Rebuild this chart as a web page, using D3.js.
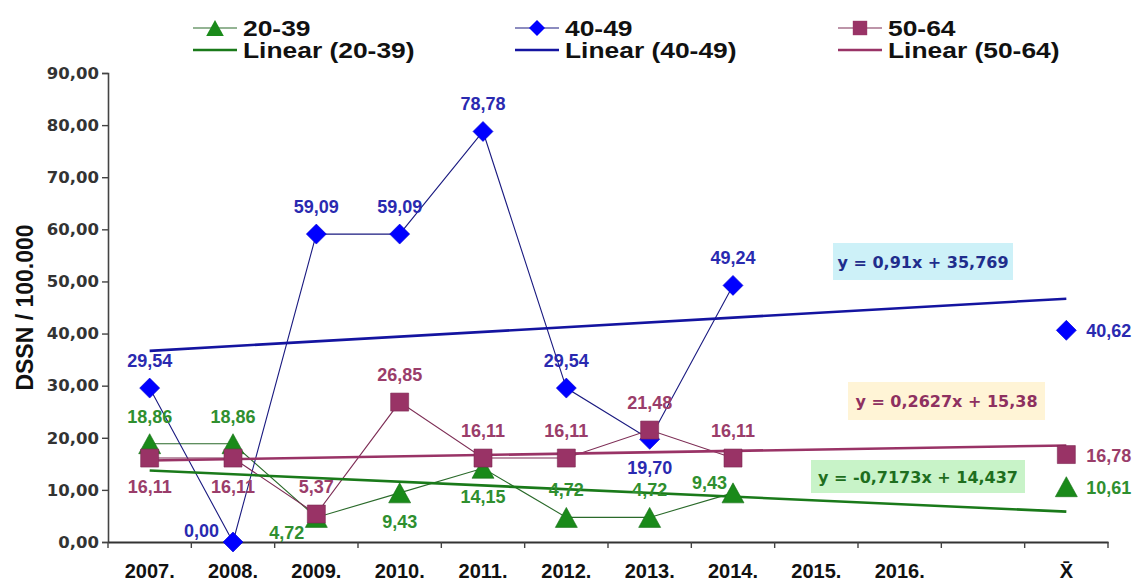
<!DOCTYPE html>
<html>
<head>
<meta charset="utf-8">
<script src="https://cdn.jsdelivr.net/npm/d3@7"></script>
<style>
  html, body { margin: 0; padding: 0; background: #fff; }
  svg { display: block; }
</style>
</head>
<body>
<svg id="chart" width="1147" height="581"></svg>
<script>
// ---------------- data ----------------
const categories = ["2007.", "2008.", "2009.", "2010.", "2011.", "2012.", "2013.", "2014.", "2015.", "2016.", "", "X\u0304"];
const seriesNames = ["20-39", "40-49", "50-64"];
const values2039 = [18.86, 18.86, 4.72, 9.43, 14.15, 4.72, 4.72, 9.43, null, null, null, 10.61];
const values4049 = [29.54, 0.00, 59.09, 59.09, 78.78, 29.54, 19.70, 49.24, null, null, null, 40.62];
const values5064 = [16.11, 16.11, 5.37, 26.85, 16.11, 16.11, 21.48, 16.11, null, null, null, 16.78];
const trendSlopes = [-0.7173, 0.91, 0.2627];
const trendIntercepts = [14.437, 35.769, 15.38];
const trendLabels = ["y = -0,7173x + 14,437", "y = 0,91x + 35,769", "y = 0,2627x + 15,38"];
const yTicks = [0, 10, 20, 30, 40, 50, 60, 70, 80, 90];
const yTitle = "DSSN / 100.000";

// label placement codes (layout only)
const place2039 = ["t", "t", "bl", "b", "b", "t", "t", "tl", null, null, null, "r"];
const place4049 = ["t", "l", "t", "t", "t", "t", "b", "t", null, null, null, "r"];
const place5064 = ["b", "b", "t", "t", "t", "t", "t", "t", null, null, null, "r"];

// ---------------- styling ----------------
const styles = [
  { marker: "#1a8a1a", line: "#2a6a2a", trend: "#1a7a1a", label: "#2f8f2f", eq: "#1e6e1e", eqBg: "#c8f3c8", shape: "triangle" },
  { marker: "#0000ff", line: "#1a1a80", trend: "#1414a0", label: "#2a2ab0", eq: "#1f2d8c", eqBg: "#cdf1f8", shape: "diamond" },
  { marker: "#993366", line: "#7d2d55", trend: "#993366", label: "#9a3d6a", eq: "#8e3060", eqBg: "#fff4d6", shape: "square" }
];
const allValues = [values2039, values4049, values5064];
const allPlaces = [place2039, place4049, place5064];

const svg = d3.select("#chart");
const plotL = 108, plotR = 1108, plotT = 73, plotB = 542;

const x = d3.scaleBand().domain(d3.range(categories.length)).range([plotL, plotR]).paddingInner(0).paddingOuter(0);
const cx = i => x(i) + x.bandwidth() / 2;
const y = d3.scaleLinear().domain([0, 90]).range([plotB, plotT]);

const fmt = v => v.toFixed(2).replace(".", ",");

function markerPath(shape, s) {
  if (shape === "triangle") return `M0,${-s} L${s * 1.1},${s} L${-s * 1.1},${s} Z`;
  if (shape === "diamond") return `M0,${-s} L${s},0 L0,${s} L${-s},0 Z`;
  return `M${-s * 0.9},${-s * 0.9} H${s * 0.9} V${s * 0.9} H${-s * 0.9} Z`;
}

// ---------------- axes ----------------
const yAxis = d3.axisLeft(y).tickValues(yTicks).tickFormat(fmt).tickSize(6).tickPadding(3);
const gy = svg.append("g").attr("transform", `translate(${plotL},0)`).call(yAxis);
gy.select(".domain").attr("stroke", "#444").attr("stroke-width", 1.6);
gy.selectAll(".tick line").attr("stroke", "#444").attr("stroke-width", 1.4);
gy.selectAll(".tick text")
  .attr("font-family", "'DejaVu Sans', sans-serif")
  .attr("font-weight", "bold")
  .attr("font-size", 16.5)
  .attr("fill", "#333");

const xAxis = d3.axisBottom(x).tickFormat(i => categories[i]).tickSize(0).tickPadding(22);
const gx = svg.append("g").attr("transform", `translate(0,${plotB})`).call(xAxis);
gx.select(".domain").attr("stroke", "#333").attr("stroke-width", 1.8);
gx.selectAll(".tick text")
  .attr("font-family", "'Liberation Sans', Arial, sans-serif")
  .attr("font-weight", "bold")
  .attr("font-size", 20)
  .attr("fill", "#111");
// boundary tick marks
svg.append("g").selectAll("line")
  .data(d3.range(categories.length + 1))
  .join("line")
  .attr("x1", i => plotL + i * x.step())
  .attr("x2", i => plotL + i * x.step())
  .attr("y1", plotB)
  .attr("y2", plotB + 6)
  .attr("stroke", "#444")
  .attr("stroke-width", 1.4);

// y title
svg.append("text")
  .attr("transform", `translate(33,${(plotT + plotB) / 2}) rotate(-90)`)
  .attr("text-anchor", "middle")
  .attr("font-family", "'Liberation Sans', Arial, sans-serif")
  .attr("font-weight", "bold")
  .attr("font-size", 23)
  .attr("fill", "#111")
  .text(yTitle);

// ---------------- series lines ----------------
allValues.forEach((vals, k) => {
  const line = d3.line().defined(d => d != null).x((d, i) => cx(i)).y(d => y(d));
  svg.append("path")
    .attr("d", line(vals))
    .attr("fill", "none")
    .attr("stroke", styles[k].line)
    .attr("stroke-width", 1.1);
});

// ---------------- trend lines ----------------
allValues.forEach((vals, k) => {
  const idx = [0, categories.length - 1];
  const tl = d3.line().x(i => cx(i)).y(i => y(trendSlopes[k] * (i + 1) + trendIntercepts[k]));
  svg.append("path")
    .attr("d", tl(idx))
    .attr("fill", "none")
    .attr("stroke", styles[k].trend)
    .attr("stroke-width", 2.6);
});

// ---------------- markers ----------------
allValues.forEach((vals, k) => {
  svg.append("g").selectAll("path")
    .data(vals.map((v, i) => ({ v, i })).filter(d => d.v != null))
    .join("path")
    .attr("transform", d => `translate(${cx(d.i)},${y(d.v)})`)
    .attr("d", markerPath(styles[k].shape, 10))
    .attr("fill", styles[k].marker)
    .attr("stroke", d3.color(styles[k].marker).darker(0.6))
    .attr("stroke-width", 0.6);
});

// ---------------- data labels ----------------
function labelPos(code, px, py) {
  switch (code) {
    case "t": return { x: px, y: py - 21, a: "middle" };
    case "b": return { x: px, y: py + 35, a: "middle" };
    case "l": return { x: px - 14, y: py - 5, a: "end" };
    case "bl": return { x: px - 12, y: py + 22, a: "end" };
    case "tl": return { x: px - 6, y: py - 4, a: "end" };
    case "r": return { x: px + 20, y: py + 7, a: "start" };
  }
}
allValues.forEach((vals, k) => {
  vals.forEach((v, i) => {
    if (v == null) return;
    const p = labelPos(allPlaces[k][i], cx(i), y(v));
    svg.append("text")
      .attr("x", p.x).attr("y", p.y)
      .attr("text-anchor", p.a)
      .attr("font-family", "'Liberation Sans', Arial, sans-serif")
      .attr("font-weight", "bold")
      .attr("font-size", 18)
      .attr("fill", styles[k].label)
      .text(fmt(v));
  });
});

// ---------------- trend equation labels ----------------
const eqBoxes = [
  { x: 811, y: 460, w: 214, h: 33 },
  { x: 833, y: 243, w: 180, h: 37 },
  { x: 848, y: 382, w: 197, h: 38 }
];
trendLabels.forEach((t, k) => {
  const b = eqBoxes[k];
  svg.append("rect").attr("x", b.x).attr("y", b.y).attr("width", b.w).attr("height", b.h).attr("fill", styles[k].eqBg);
  svg.append("text")
    .attr("x", b.x + b.w / 2).attr("y", b.y + b.h / 2 + 6)
    .attr("text-anchor", "middle")
    .attr("font-family", "'DejaVu Sans', sans-serif")
    .attr("font-weight", "bold")
    .attr("font-size", 16)
    .attr("fill", styles[k].eq)
    .text(t);
});

// ---------------- legend ----------------
const legendX = [193, 515, 838];
function legendText(g, tx, ty, str) {
  g.append("text")
    .attr("transform", `translate(${tx},${ty}) scale(1.2,1)`)
    .attr("font-family", "'Liberation Sans', Arial, sans-serif").attr("font-weight", "bold")
    .attr("font-size", 22).attr("fill", "#111").text(str);
}
seriesNames.forEach((name, k) => {
  const lx = legendX[k];
  const g = svg.append("g");
  g.append("line").attr("x1", lx).attr("x2", lx + 44).attr("y1", 28).attr("y2", 28)
    .attr("stroke", styles[k].line).attr("stroke-width", 1.2);
  g.append("path").attr("transform", `translate(${lx + 22},28)`)
    .attr("d", markerPath(styles[k].shape, 8)).attr("fill", styles[k].marker);
  legendText(g, lx + 50, 36, name);
  g.append("line").attr("x1", lx).attr("x2", lx + 44).attr("y1", 50).attr("y2", 50)
    .attr("stroke", styles[k].trend).attr("stroke-width", 2.6);
  legendText(g, lx + 50, 58, `Linear (${name})`);
});
</script>
</body>
</html>
